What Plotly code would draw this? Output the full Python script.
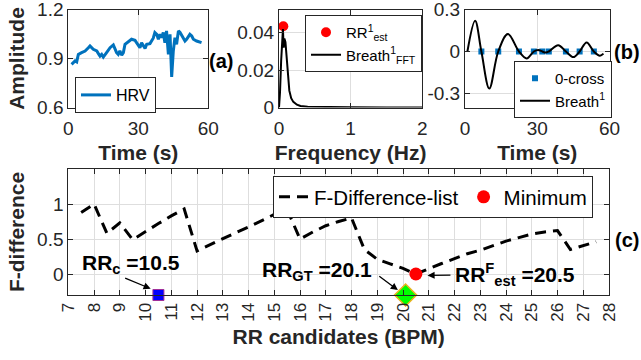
import plotly.graph_objects as go

# ---------------- data ----------------
# (a) HRV
hrv_t = [1.4, 2.9, 3.6, 4.3, 5.7, 7.2, 8.6, 9.3, 10.7, 12.2, 12.9, 13.6, 14.3, 15.0, 16.4, 17.9, 19.3, 20.7, 21.4, 22.1,
         22.9, 23.6, 24.3, 25.7, 27.1, 28.6, 29.3, 30.0, 30.7, 31.4, 32.1, 32.9, 33.6, 35.0, 36.4, 37.1, 37.9, 38.6, 39.3, 40.0,
         40.7, 41.4, 42.1, 42.9, 43.6, 44.3, 45.0, 45.7, 46.4, 47.2, 47.9, 49.3, 50.0, 50.7, 52.1, 52.9, 53.6, 55.0, 57.1]
hrv_v = [0.864, 0.885, 0.879, 0.925, 0.936, 0.946, 0.966, 0.977, 0.956, 0.946, 0.930, 0.915, 0.925, 0.909, 0.936, 0.966, 0.983, 0.936, 0.925, 0.946,
         0.921, 0.936, 0.987, 1.003, 1.018, 1.011, 0.997, 0.987, 0.966, 0.997, 0.977, 0.962, 0.987, 0.991, 1.024, 1.059, 1.048, 1.018, 1.048, 1.028,
         1.059, 0.997, 1.069, 0.925, 1.048, 0.787, 0.946, 1.028, 0.987, 1.069, 1.059, 1.028, 1.007, 1.018, 1.048, 1.038, 1.018, 1.007, 0.997]

# spectrum of Breath^1
fft_f = [0.0, 0.014, 0.03, 0.045, 0.055, 0.065, 0.075, 0.09, 0.1, 0.116, 0.13, 0.144, 0.17, 0.2, 0.25, 0.3, 0.4, 0.6, 1.0, 1.5, 2.0]
fft_v = [0.0, 0.008, 0.025, 0.040, 0.042, 0.032, 0.037, 0.035, 0.029, 0.022, 0.015, 0.009, 0.005, 0.003, 0.0015, 0.0008, 0.0004, 0.0002, 0.0001, 0.00005, 0.0]
rr_est_f = [0.06]
rr_est_v = [0.0435]

# (b) Breath^1 and zero crossings
br_t = [1.0, 4.2, 6.8, 10.1, 13.8, 17.8, 22.4, 25.6, 28.6, 30.4, 32.1, 33.5, 34.8, 38.7, 41.9, 45.0, 47.6, 50.5, 53.5, 56.0, 57.5]
br_v = [0.0, 0.22, 0.0, -0.265, 0.0, 0.125, 0.0, -0.05, 0.0, 0.01, 0.0, -0.008, 0.0, 0.045, 0.0, -0.04, 0.0, 0.065, 0.0, -0.03, -0.015]
zc_t = [6.8, 13.8, 22.4, 28.6, 32.1, 34.8, 41.9, 47.6, 53.5]
zc_v = [0, 0, 0, 0, 0, 0, 0, 0, 0]

# (c) F-difference list
rr_cand = [7.5, 8.0, 8.5, 9.0, 9.5, 10.0, 10.5, 11.0, 11.5, 12.0, 12.5, 13.0, 13.5, 14.0, 14.5, 15.0, 15.5, 16.0, 16.5, 17.0,
           17.5, 18.0, 18.5, 19.0, 19.5, 20.0, 20.5, 21.0, 21.5, 22.0, 22.5, 23.0, 23.5, 24.0, 24.5, 25.0, 25.5, 26.0, 26.5, 27.0, 27.5]
f_diff = [0.88, 1.0, 0.58, 0.73, 0.49, 0.61, 0.72, 0.83, 0.93, 0.33, 0.42, 0.5, 0.59, 0.67, 0.76, 0.85, 0.92, 0.5, 0.6, 0.69,
          0.75, 0.8, 0.35, 0.21, 0.145, 0.08, 0.0, 0.08, 0.15, 0.22, 0.29, 0.34, 0.41, 0.47, 0.52, 0.57, 0.6, 0.62, 0.35, 0.4, 0.46]
min_x, min_y = [20.5], [0.0]
rrc_x, rrc_y = [10.5], [-0.3]
rrgt_x, rrgt_y = [20.1], [-0.3]
rr_ticks = list(range(7, 29))

# ---------------- figure ----------------
W, H = 641, 360
FONT = "Liberation Sans, Arial, sans-serif"
INK = "#262626"
GRID = "#dedede"

def px(x):
    return x / W

def py(y):
    return 1 - y / H

fig = go.Figure()

fig.add_trace(go.Scatter(x=hrv_t, y=hrv_v, mode="lines", name="HRV",
                         line=dict(color="#0072bd", width=3), xaxis="x", yaxis="y", legend="legend"))

fig.add_trace(go.Scatter(x=rr_est_f, y=rr_est_v, mode="markers", name="RR<sup>1</sup><sub>est</sub>",
                         marker=dict(color="#ff0000", size=10, symbol="circle"), xaxis="x2", yaxis="y2",
                         legend="legend2", cliponaxis=False))
fig.add_trace(go.Scatter(x=fft_f, y=fft_v, mode="lines", name="Breath<sup>1</sup><sub>FFT</sub>",
                         line=dict(color="black", width=2), xaxis="x2", yaxis="y2", legend="legend2"))

fig.add_trace(go.Scatter(x=zc_t, y=zc_v, mode="markers", name="0-cross",
                         marker=dict(color="#0072bd", size=6, symbol="square"), xaxis="x3", yaxis="y3",
                         legend="legend3"))
fig.add_trace(go.Scatter(x=br_t, y=br_v, mode="lines", name="Breath<sup>1</sup>",
                         line=dict(color="black", width=2, shape="spline", smoothing=1.0), xaxis="x3", yaxis="y3",
                         legend="legend3"))

fig.add_trace(go.Scatter(x=rr_cand, y=f_diff, mode="lines", name="F-Difference-list",
                         line=dict(color="black", width=3, dash="11px,7px"), xaxis="x4", yaxis="y4",
                         legend="legend4"))
fig.add_trace(go.Scatter(x=min_x, y=min_y, mode="markers", name="Minimum",
                         marker=dict(color="#ff0000", size=13, symbol="circle"), xaxis="x4", yaxis="y4",
                         legend="legend4"))
fig.add_trace(go.Scatter(x=rrc_x, y=rrc_y, mode="markers", showlegend=False,
                         marker=dict(color="#0000ff", size=11, symbol="square", line=dict(color="#a0309a", width=1)),
                         xaxis="x4", yaxis="y4", cliponaxis=False))
fig.add_trace(go.Scatter(x=rrgt_x, y=rrgt_y, mode="markers", showlegend=False,
                         marker=dict(color="#00ff00", size=17, symbol="diamond", line=dict(color="#edb120", width=1.5)),
                         xaxis="x4", yaxis="y4", cliponaxis=False))

def axis_common(**kw):
    d = dict(showline=True, linecolor=INK, linewidth=1, mirror="ticks", ticks="inside", ticklen=5,
             tickcolor=INK, showgrid=True, gridcolor=GRID, gridwidth=1, zeroline=False,
             tickfont=dict(family=FONT, size=19, color=INK), automargin=False, ticklabeloverflow="allow")
    d.update(kw)
    return d

TITLE_FONT = dict(family=FONT, size=21, color=INK, weight="bold")

top_dom = [py(107.5), py(9.5)]
fig.update_layout(
    width=W, height=H, margin=dict(l=0, r=0, t=0, b=0),
    paper_bgcolor="white", plot_bgcolor="white",
    font=dict(family=FONT, color=INK),
    xaxis=axis_common(domain=[px(68.3), px(208.3)], range=[0, 60], tickvals=[0, 30, 60], anchor="y",
                      ticklabelstandoff=4,
                      title=dict(text="<b>Time (s)</b>", font=TITLE_FONT, standoff=7)),
    yaxis=axis_common(domain=top_dom, range=[0.6, 1.2], tickvals=[0.6, 0.9, 1.2], ticktext=["0.6", "0.9", "1.2"],
                      anchor="x", title=dict(text="<b>Amplitude</b>", font=TITLE_FONT, standoff=6)),
    xaxis2=axis_common(domain=[px(279), px(422.3)], range=[0, 2], tickvals=[0, 1, 2], anchor="y2",
                       ticklabelstandoff=4,
                       title=dict(text="<b>Frequency (Hz)</b>", font=TITLE_FONT, standoff=7)),
    yaxis2=axis_common(domain=top_dom, range=[0, 0.0525], tickvals=[0, 0.02, 0.04], ticktext=["0", "0.02", "0.04"],
                       anchor="x2"),
    xaxis3=axis_common(domain=[px(465), px(609.5)], range=[0, 60], tickvals=[0, 30, 60], anchor="y3",
                       ticklabelstandoff=4,
                       title=dict(text="<b>Time (s)</b>", font=TITLE_FONT, standoff=7)),
    yaxis3=axis_common(domain=top_dom, range=[-0.4, 0.3], tickvals=[-0.3, 0, 0.3], ticktext=["-0.3", "0", "0.3"],
                       anchor="x3"),
    xaxis4=axis_common(domain=[px(68.3), px(609)], range=[7, 28], tickvals=rr_ticks, tickangle=-90, anchor="y4",
                       tickfont=dict(family=FONT, size=17, color=INK),
                       title=dict(text="<b>RR candidates (BPM)</b>", font=TITLE_FONT, standoff=8)),
    yaxis4=axis_common(domain=[py(295), py(169)], range=[-0.3, 1.5], tickvals=[0, 0.5, 1], ticktext=["0", "0.5", "1"],
                       anchor="x4", title=dict(text="<b>F-difference</b>", font=TITLE_FONT, standoff=6)),
)

def legend_style(x, y, size, **kw):
    d = dict(x=x, y=y, xanchor="left", yanchor="top", bgcolor="white", bordercolor=INK, borderwidth=1,
             font=dict(family=FONT, size=size, color="black"), itemwidth=30, tracegroupgap=0)
    d.update(kw)
    return d

fig.update_layout(
    legend=legend_style(px(75), py(77), 16),
    legend2=legend_style(px(305), py(15), 15),
    legend3=legend_style(px(514), py(61), 15),
    legend4=legend_style(px(273), py(176), 20.5, orientation="h"),
)

ANN_FONT = dict(family=FONT, size=21, color="black")
anns = [
    dict(text="<b>(a)</b>", x=px(221), y=py(61), font=dict(family=FONT, size=20, color="black")),
    dict(text="<b>(b)</b>", x=px(627), y=py(52), font=dict(family=FONT, size=20, color="black")),
    dict(text="<b>(c)</b>", x=px(627), y=py(240), font=dict(family=FONT, size=20, color="black")),
]
for a in anns:
    a.update(xref="paper", yref="paper", showarrow=False, xanchor="center", yanchor="middle")
    fig.add_annotation(**a)

# text labels in (c)
fig.add_annotation(text="<b>RR<sub>c</sub> =10.5</b>", x=7.45, y=0.15, xref="x4", yref="y4",
                   xanchor="left", yanchor="middle", showarrow=False, font=ANN_FONT)
fig.add_annotation(text="<b>RR<sub>GT</sub> =20.1</b>", x=14.44, y=0.05, xref="x4", yref="y4",
                   xanchor="left", yanchor="middle", showarrow=False, font=ANN_FONT)
fig.add_annotation(text="<b>RR<sup>F</sup><sub>est</sub> =20.5</b>", x=21.95, y=0.0, xref="x4", yref="y4",
                   xanchor="left", yanchor="middle", showarrow=False, font=ANN_FONT)

# arrows
for (tx, ty, hx, hy) in [(9.15, -0.05, 10.2, -0.21), (19.02, -0.015, 19.8, -0.23), (21.9, -0.015, 20.95, -0.02)]:
    fig.add_annotation(x=hx, y=hy, ax=tx, ay=ty, xref="x4", yref="y4", axref="x4", ayref="y4",
                       text="", showarrow=True, arrowhead=2, arrowsize=1.1, arrowwidth=1.3, arrowcolor="black")

fig.write_html("out.html")
